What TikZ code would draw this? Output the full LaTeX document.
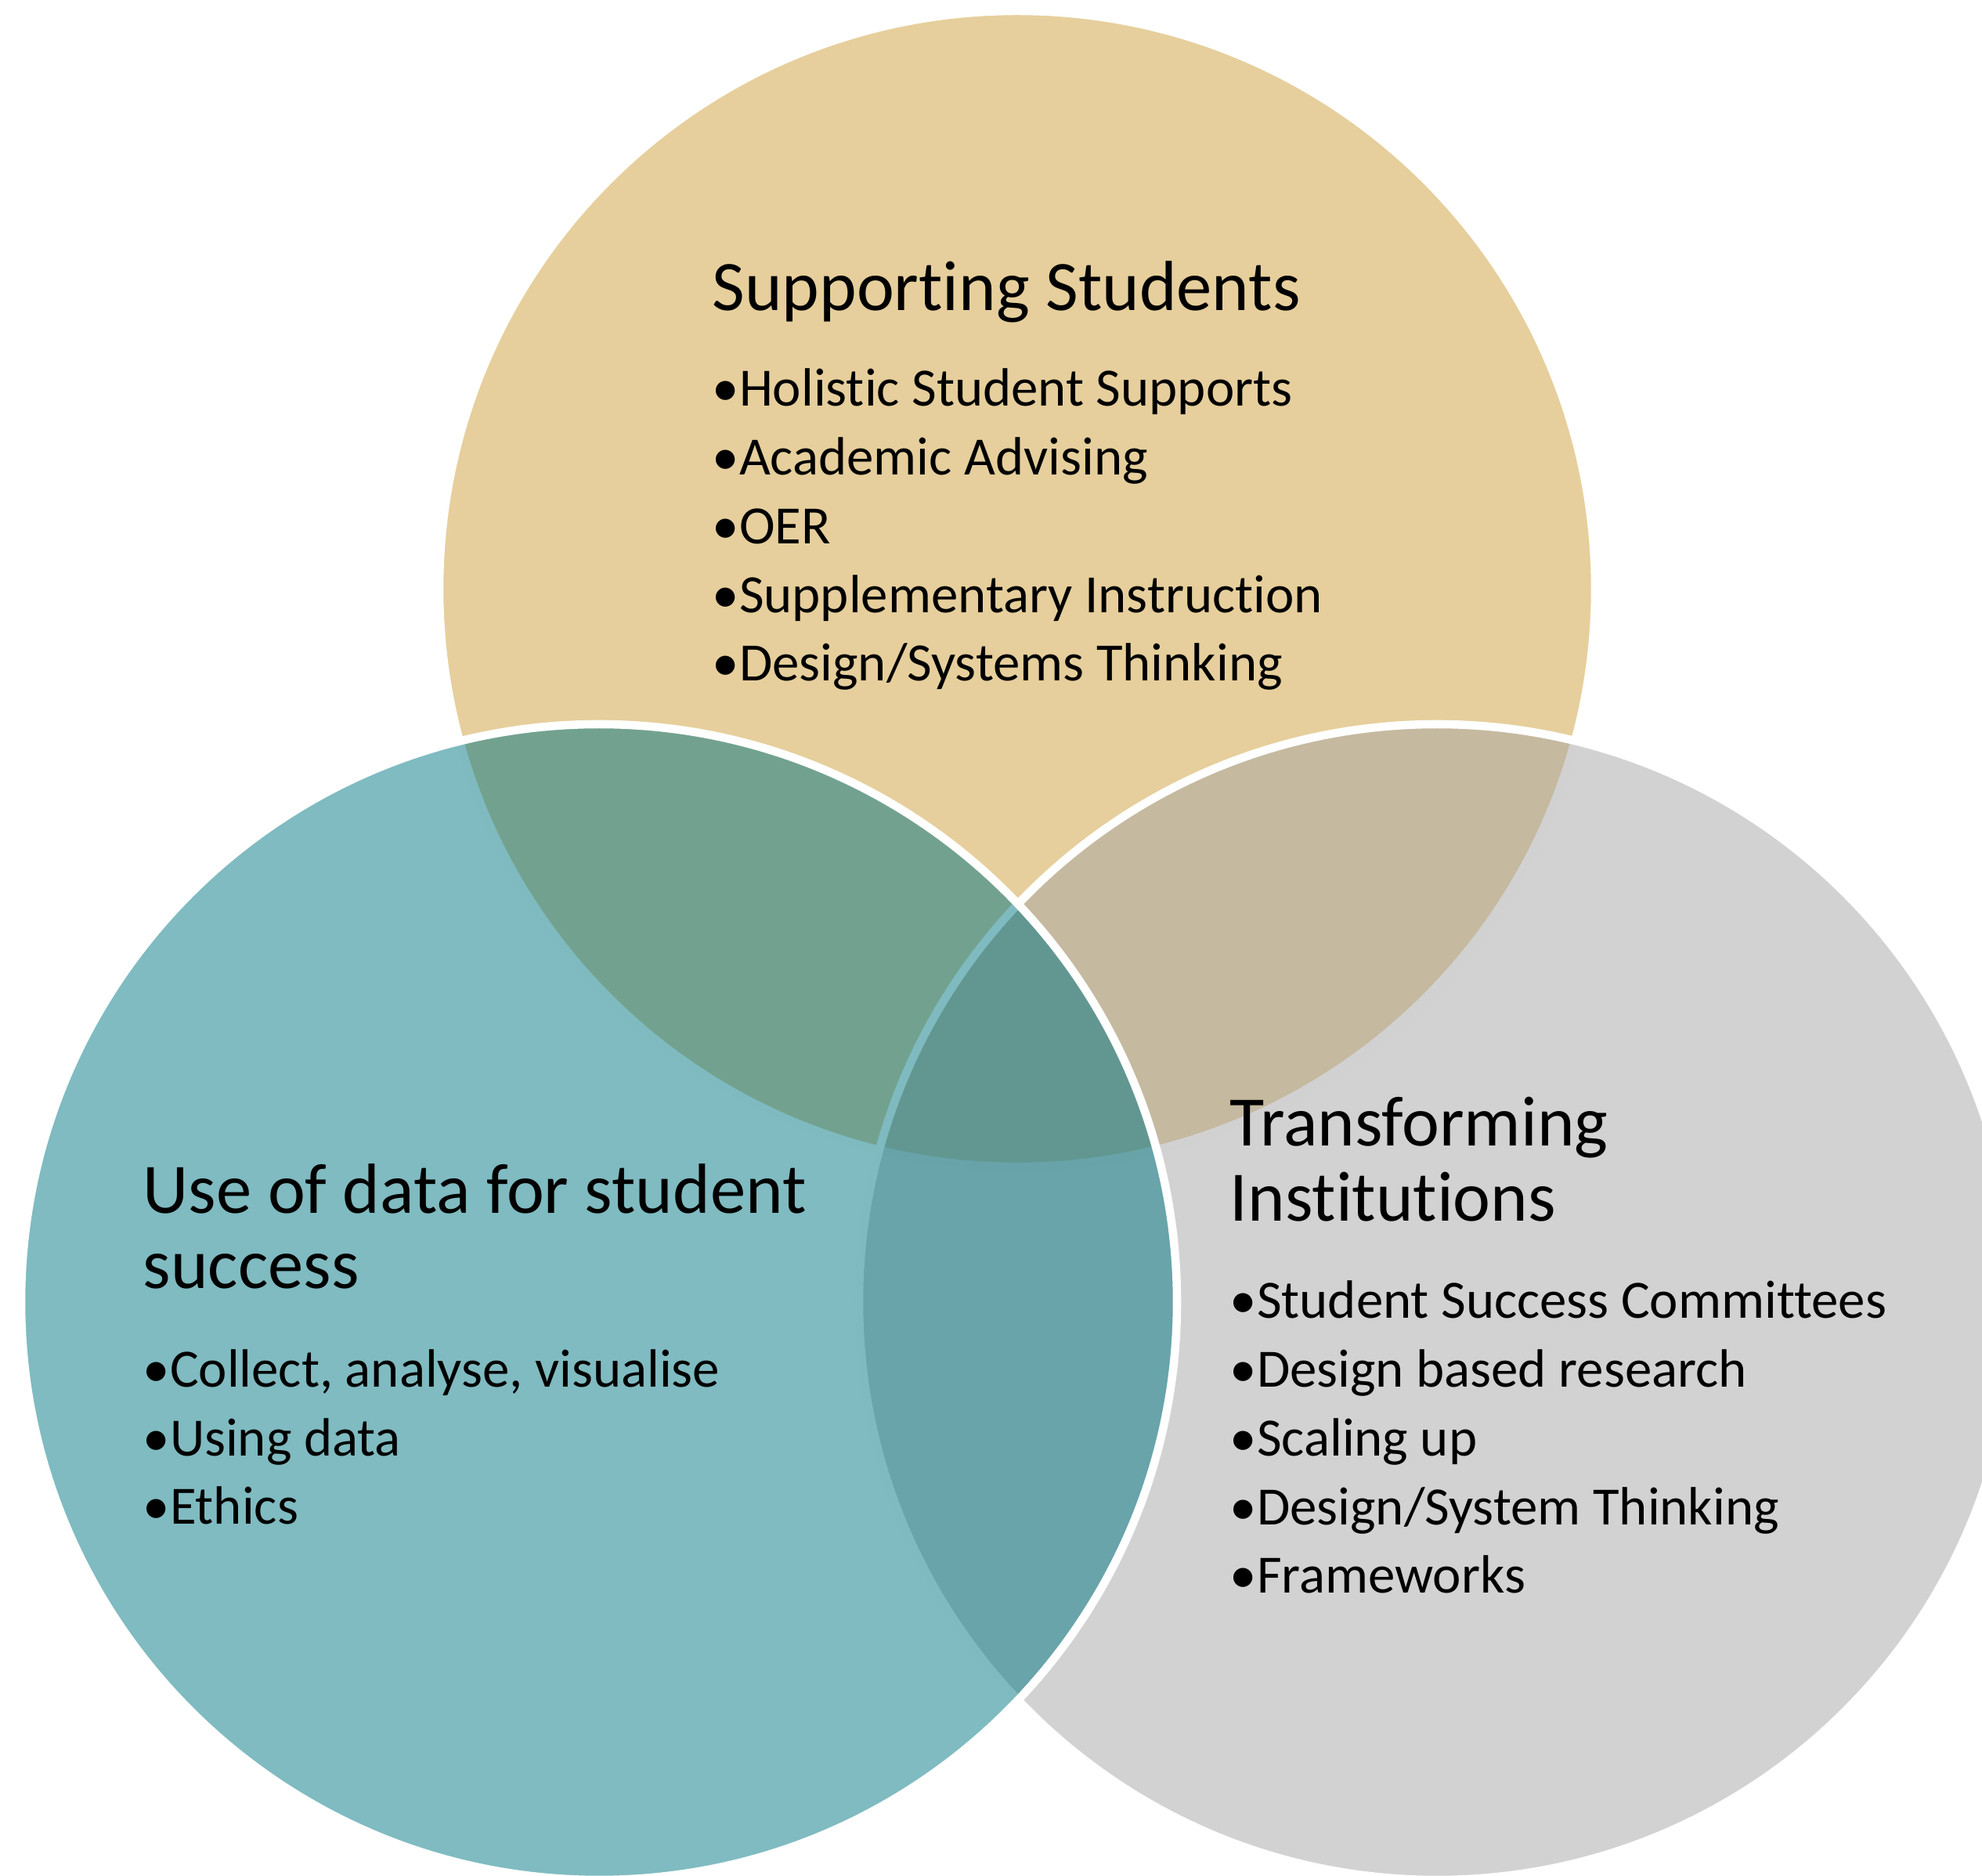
\documentclass[tikz,border=0pt]{standalone}
\usepackage{fontspec}
\setmainfont{Carlito}[Ligatures=NoCommon]

\definecolor{sandfill}{HTML}{E6CF9C}
\definecolor{tealfill}{HTML}{007783}
\definecolor{greyfill}{HTML}{A5A5A5}

\begin{document}
\begin{tikzpicture}[
    ring/.style={draw=white, line width=3pt},
    heading/.style={anchor=base west, inner sep=0pt, align=left,
      font=\fontsize{25.8}{27.5}\selectfont},
    itemlist/.style={anchor=base west, inner sep=0pt, align=left,
      font=\fontsize{19.6}{25}\selectfont}
  ]
  \useasboundingbox (0,0) rectangle (25.31,23.96);
  \clip (0,0) rectangle (25.31,23.96);
  % the three sets, top one first, the left one last
  \draw[ring, fill=sandfill] (12.99,16.44) circle (7.38);
  \draw[ring, fill=greyfill, fill opacity=0.5] (18.35,7.33) circle (7.38);
  \draw[ring, fill=tealfill, fill opacity=0.5] (7.65,7.33) circle (7.38);

  % base of a multi-line node = baseline of its last line
  \node[heading] (students) at (9.09,19.99) {Supporting Students};
  \node[itemlist] (studentsitems) at (9.09,15.26)
    {\textbullet Holistic Student Supports\\
     \textbullet Academic Advising\\
     \textbullet OER\\
     \textbullet Supplementary Instruction\\
     \textbullet Design/Systems Thinking};

  \node[heading] (data) at (1.82,7.50) {Use of data for student\\success};
  \node[itemlist] (dataitems) at (1.82,4.49)
    {\textbullet Collect, analyse, visualise\\
     \textbullet Using data\\
     \textbullet Ethics};

  \node[heading] (inst) at (15.70,8.36) {Transforming\\Institutions};
  \node[itemlist] (institems) at (15.70,3.61)
    {\textbullet Student Success Committees\\
     \textbullet Design based research\\
     \textbullet Scaling up\\
     \textbullet Design/System Thinking\\
     \textbullet Frameworks};
\end{tikzpicture}
\end{document}
